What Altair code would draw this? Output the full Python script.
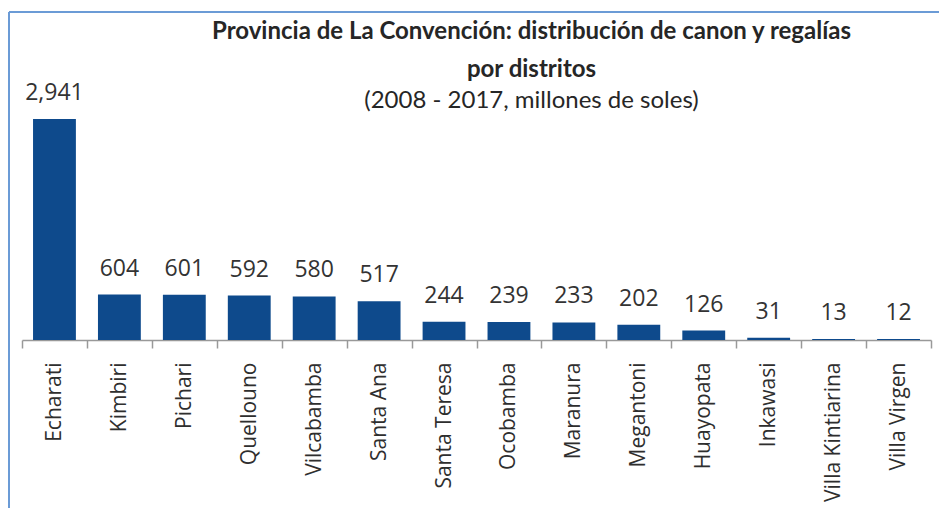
import altair as alt
import pandas as pd

districts = ["Echarati", "Kimbiri", "Pichari", "Quellouno", "Vilcabamba", "Santa Ana",
             "Santa Teresa", "Ocobamba", "Maranura", "Megantoni", "Huayopata",
             "Inkawasi", "Villa Kintiarina", "Villa Virgen"]
values = [2941, 604, 601, 592, 580, 517, 244, 239, 233, 202, 126, 31, 13, 12]

df = pd.DataFrame({"distrito": districts, "valor": values})

W, H = 909, 221

x_enc = alt.X("distrito:N", sort=districts, title=None,
              scale=alt.Scale(paddingInner=0, paddingOuter=0),
              axis=alt.Axis(labelAngle=-90, tickBand="extent", tickSize=8,
                            tickColor="#999999", domainColor="#999999",
                            domainWidth=1.5, tickWidth=1.5,
                            labelFont="Open Sans", labelFontSize=21,
                            labelColor="#2e2e2e", labelPadding=14))
y_enc = alt.Y("valor:Q", axis=None,
              scale=alt.Scale(domain=[0, 2941], nice=False, zero=True))

base = alt.Chart(df).encode(x=x_enc, y=y_enc)

bars = base.mark_bar(width=alt.RelativeBandSize(0.66), color="#0E4A8C")
labels = base.mark_text(dy=-19, baseline="alphabetic", font="Open Sans",
                        fontSize=23, color="#333333").encode(
    text=alt.Text("valor:Q", format=",")
)

frame_top = alt.Chart(df).mark_rule(color="#6b9bd6", strokeWidth=2).encode(
    x=alt.value(-13), x2=alt.value(W + 20), y=alt.value(-107)
)
frame_left = alt.Chart(df).mark_rule(color="#6b9bd6", strokeWidth=2).encode(
    x=alt.value(-13), y=alt.value(-107), y2=alt.value(H + 200)
)

chart = alt.layer(frame_top, frame_left, bars, labels).properties(
    width=W, height=H,
    title=alt.TitleParams(
        text=["Provincia de La Convención: distribución de canon y regalías", "por distritos"],
        subtitle="(2008 - 2017, millones de soles)",
        font="Lato", fontSize=24, fontWeight="bold", color="#262626",
        lineHeight=38, subtitleFont="Lato", subtitleFontSize=24,
        subtitleColor="#262626", subtitlePadding=7,
        anchor="middle", frame="group", dx=55, offset=-102,
    ),
    autosize=alt.AutoSizeParams(type="none"),
    padding={"left": 14, "top": 111, "right": 8, "bottom": 168},
).configure_view(stroke=None)

chart.save("out.html", embed_options={"renderer": "svg", "actions": False})
